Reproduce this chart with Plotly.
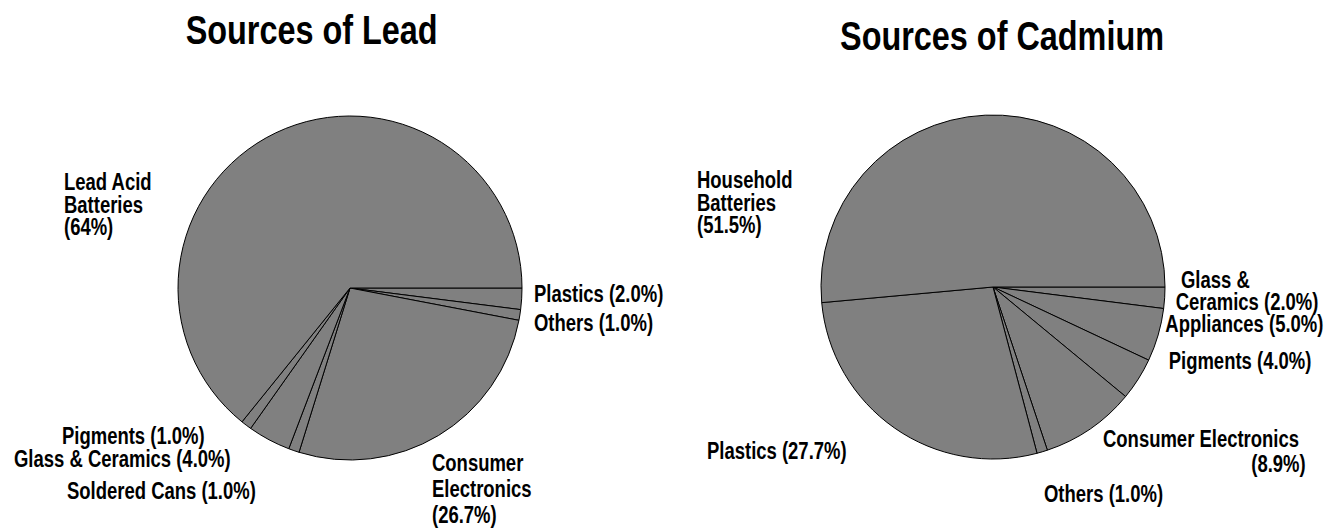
import plotly.graph_objects as go

W, H = 1331, 530

# ---- data ----
lead_labels = ["Plastics", "Others", "Consumer Electronics", "Soldered Cans",
               "Glass & Ceramics", "Pigments", "Lead Acid Batteries"]
lead_values = [2.0, 1.0, 26.7, 1.0, 4.0, 1.0, 64.0]

cad_labels = ["Glass & Ceramics", "Appliances", "Pigments", "Consumer Electronics",
              "Others", "Plastics", "Household Batteries"]
cad_values = [2.0, 5.0, 4.0, 8.9, 1.0, 27.7, 51.5]

lead_text = [["Plastics (2.0%)"], ["Others (1.0%)"], ["Consumer", "Electronics", "(26.7%)"],
             ["Soldered Cans (1.0%)"], ["Glass & Ceramics (4.0%)"], ["Pigments (1.0%)"],
             ["Lead Acid", "Batteries", "(64%)"]]
cad_text = [["Glass &", "Ceramics (2.0%)"], ["Appliances (5.0%)"], ["Pigments (4.0%)"],
            ["Consumer Electronics", "(8.9%)"], ["Others (1.0%)"], ["Plastics (27.7%)"],
            ["Household", "Batteries", "(51.5%)"]]

titles = ["Sources of Lead", "Sources of Cadmium"]

# ---- layout (pixel positions of label lines: x, y-center, anchor) ----
lead_pos = [[(532, 293, "left")], [(532, 322, "left")],
            [(430, 462, "left"), (430, 488, "left"), (430, 514, "left")],
            [(65, 490, "left")], [(12, 458, "left")], [(60, 435, "left")],
            [(62, 182, "left"), (62, 204, "left"), (62, 226, "left")]]
cad_pos = [[(1179, 279, "left"), (1320, 301, "right")], [(1325, 323, "right")],
           [(1313, 360, "right")], [(1101, 438, "left"), (1308, 463, "right")],
           [(1042, 493, "left")], [(705, 450, "left")],
           [(695, 180, "left"), (695, 202, "left"), (695, 224, "left")]]
title_pos = [(311, 30), (1002, 36)]

centers = [(350, 288), (993, 287)]
R = 172

LABEL_FONT = dict(family="Liberation Sans, Arial, sans-serif", size=24, color="black",
                  weight="bold")
TITLE_FONT = dict(family="Liberation Sans, Arial, sans-serif", size=40, color="black",
                  weight="bold")

fig = go.Figure()
for (cx, cy), labels, values in zip(centers, [lead_labels, cad_labels], [lead_values, cad_values]):
    fig.add_trace(go.Pie(
        labels=labels, values=values, sort=False, direction="clockwise", rotation=90,
        marker=dict(colors=["#808080"] * len(values), line=dict(color="black", width=1)),
        textinfo="none", hoverinfo="label+percent", showlegend=False,
        domain=dict(x=[(cx - R) / W, (cx + R) / W], y=[1 - (cy + R) / H, 1 - (cy - R) / H]),
    ))

annotations = []
for texts, poss in [(lead_text, lead_pos), (cad_text, cad_pos)]:
    for lines, plist in zip(texts, poss):
        for line, (px, py, anc) in zip(lines, plist):
            annotations.append(dict(text=line, x=px / W, y=1 - py / H, xref="paper", yref="paper",
                                    xanchor=anc, align=anc, yanchor="middle", showarrow=False,
                                    font=LABEL_FONT))
for t, (px, py) in zip(titles, title_pos):
    annotations.append(dict(text=t, x=px / W, y=1 - py / H, xref="paper", yref="paper",
                            xanchor="center", align="center", yanchor="middle",
                            showarrow=False, font=TITLE_FONT))

fig.update_layout(width=W, height=H, margin=dict(l=0, r=0, t=0, b=0),
                  paper_bgcolor="white", plot_bgcolor="white", annotations=annotations)

# condense the lettering horizontally (the reference uses a narrow, tightly set face)
post = """
document.querySelectorAll('#{plot_id} .annotation-text-g text.annotation-text').forEach(function(t){
  var fs = parseFloat(t.style.fontSize) || 24;
  var s = fs > 30 ? 0.81 : 0.77;
  var x = parseFloat(t.getAttribute('x')) || 0;
  t.setAttribute('transform', 'translate(' + x + ',0) scale(' + s + ',1) translate(' + (-x) + ',0)');
});
"""
fig.write_html("out.html", post_script=post)
